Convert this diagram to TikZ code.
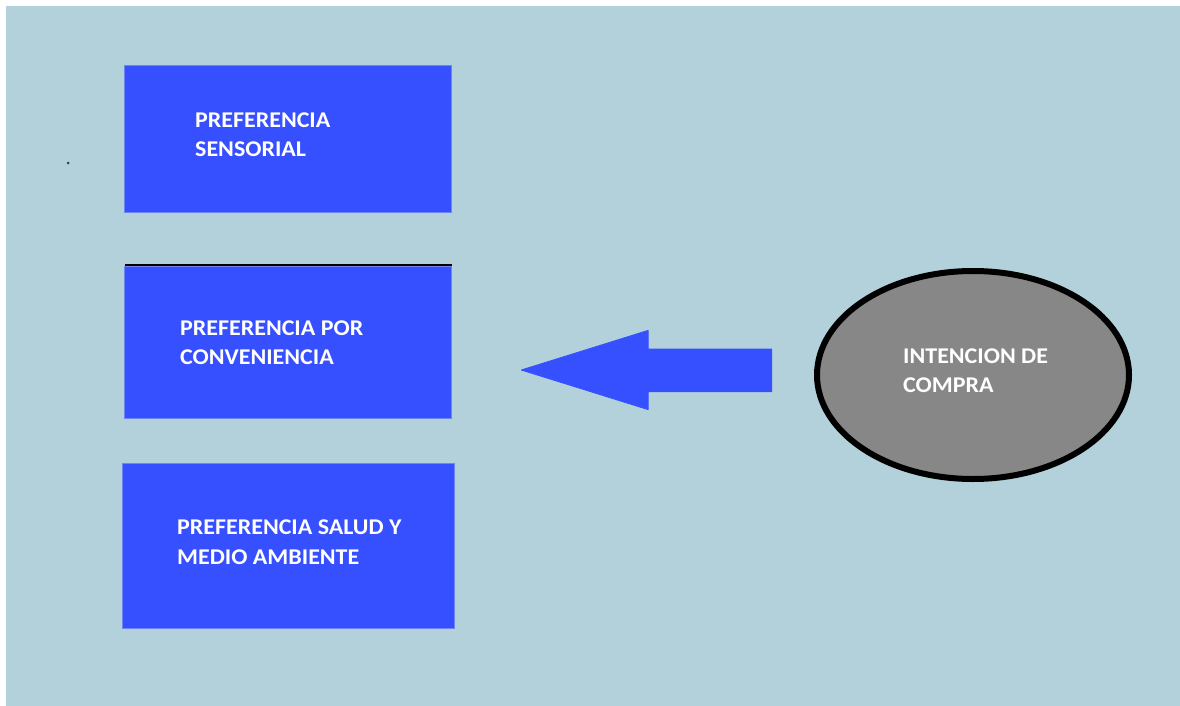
\documentclass[tikz,border=0pt]{standalone}
\usepackage{fontspec}
\setmainfont{Carlito}[FakeStretch=1.065]
\usetikzlibrary{shapes.geometric}
\definecolor{bgblue}{HTML}{B3D1DB}
\definecolor{boxblue}{HTML}{3750FF}
\definecolor{boxedge}{HTML}{6F85F2}
\definecolor{ovalgray}{HTML}{878787}
\tikzset{
  boxnode/.style={rectangle, fill=boxblue, draw=boxedge, line width=0.8pt, inner sep=0pt, anchor=north west},
  lbl/.style={anchor=west, inner sep=0pt, align=left, text=white,
    font=\fontsize{22.5}{29.4}\selectfont\bfseries},
}
\begin{document}
\begin{tikzpicture}[x=1pt,y=-1pt]
\useasboundingbox (0,0) rectangle (1180,706);
\fill[white] (0,0) rectangle (1180,706);
\fill[bgblue] (6,6) rectangle (1180,706);
% small dot
\fill[black!75] (68,163) circle (1.5);
% boxes
\node[boxnode, minimum width=327pt, minimum height=147pt] (b1) at (124,65) {};
\node[boxnode, minimum width=327pt, minimum height=152pt] (b2) at (124,266) {};
\draw[black, line width=1.8pt] (b2.north west) ++(1,-1) coordinate (lt) -- (lt -| b2.north east);
\node[boxnode, minimum width=332pt, minimum height=165pt] (b3) at (122,463) {};
\node[lbl] (t1) at (195,134.9) {PREFERENCIA\\SENSORIAL};
\node[lbl] (t2) at (180,342.9) {PREFERENCIA POR\\CONVENIENCIA};
\node[lbl] (t3) at (177,542.3) {PREFERENCIA SALUD Y\\MEDIO AMBIENTE};
% ellipse
\node[ellipse, fill=ovalgray, draw=black, line width=6pt, minimum width=312pt, minimum height=208pt, inner sep=0pt] (ic) at (973,375) {};
\node[lbl] (t4) at (903,370.9) {INTENCION DE\\COMPRA};
% arrow
\coordinate (tip) at (521.5,370);
\coordinate (tail) at (771.5,370);
\fill[boxblue, draw=boxblue, line width=1pt, line join=round]
  (tip) -- (648,330.5) -- (648,349) -- (tail |- 0,349) -- (tail |- 0,391.5) -- (648,391.5) -- (648,409.5) -- cycle;
\end{tikzpicture}
\end{document}
